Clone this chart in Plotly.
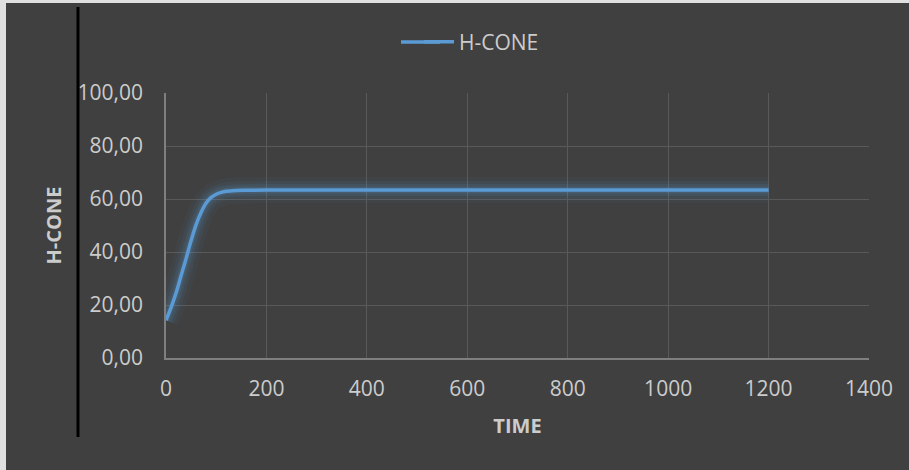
import plotly.graph_objects as go

time = [0, 10, 20, 30, 40, 50, 60, 70, 80, 90, 100, 110, 120, 140, 160, 200, 300, 400, 500, 600, 700, 800, 900, 1000, 1100, 1200]
h_cone = [14.2, 19.0, 24.5, 31.0, 37.5, 44.3, 50.3, 55.0, 58.5, 60.6, 61.8, 62.5, 62.9, 63.2, 63.3, 63.4, 63.4, 63.4, 63.4, 63.4, 63.4, 63.4, 63.4, 63.4, 63.4, 63.4]

x_ticks = [0, 200, 400, 600, 800, 1000, 1200, 1400]
y_ticks = [0, 20, 40, 60, 80, 100]

BG = "#404040"
TXT = "#cccccc"
BLUE = "#5b9bd5"
FONT = "Open Sans"
W, H = 909, 470
L, R, T, B = 166, 40, 93, 112
pw, ph = W - L - R, H - T - B

def px_x(p):
    return (p - L) / pw

def px_y(p):
    return (H - B - p) / ph

fig = go.Figure()
# glow layers
for w, a in [(26, 0.05), (18, 0.07), (12, 0.1), (7, 0.14)]:
    fig.add_trace(go.Scatter(x=time, y=h_cone, mode="lines", showlegend=False, hoverinfo="skip",
                             line=dict(color=f"rgba(91,155,213,{a})", width=w, shape="spline")))
fig.add_trace(go.Scatter(x=time, y=h_cone, mode="lines", name="H-CONE",
                         line=dict(color=BLUE, width=3.5, shape="spline")))

fig.update_layout(
    width=W, height=H,
    margin=dict(l=L, r=R, t=T, b=B),
    paper_bgcolor=BG, plot_bgcolor=BG,
    font=dict(family=FONT, size=21, color=TXT),
    separators=",.",
    legend=dict(orientation="h", x=px_x(419), xanchor="left", y=px_y(42), yanchor="middle",
                font=dict(size=21, color=TXT), bgcolor="rgba(0,0,0,0)"),
    xaxis=dict(range=[0, 1400], tickvals=x_ticks, showgrid=True, gridcolor="#595959", gridwidth=1,
               showline=True, linecolor="#7f7f7f", linewidth=1.5, zeroline=False,
               ticks="", ticklabelstandoff=11,
               title=dict(text="<b>TIME</b>", font=dict(size=20, color=TXT), standoff=18)),
    yaxis=dict(range=[0, 100], tickvals=y_ticks, tickformat=".2f", showgrid=True, gridcolor="#595959",
               gridwidth=1, showline=True, linecolor="#7f7f7f", linewidth=1.5, zeroline=False,
               ticks="", ticklabelstandoff=17,
               title=dict(text="<b>H-CONE</b>", font=dict(size=20, color=TXT), standoff=11)),
    shapes=[
        dict(type="line", xref="paper", yref="paper", x0=px_x(78), x1=px_x(78), y0=px_y(437), y1=px_y(7),
             line=dict(color="#000000", width=3)),
        dict(type="rect", xref="paper", yref="paper", x0=px_x(0), x1=px_x(6), y0=px_y(470), y1=px_y(0),
             fillcolor="#e0e0e0", line=dict(width=0)),
        dict(type="rect", xref="paper", yref="paper", x0=px_x(0), x1=px_x(909), y0=px_y(3), y1=px_y(0),
             fillcolor="#e0e0e0", line=dict(width=0)),
        dict(type="line", xref="paper", yref="paper", x0=px_x(401), x1=px_x(440), y0=px_y(42), y1=px_y(42),
             line=dict(color=BLUE, width=3.5)),
    ],
)

fig.write_html("out.html", config={"displayModeBar": False},
               post_script="document.body.style.margin='0';document.body.style.overflow='hidden';")
